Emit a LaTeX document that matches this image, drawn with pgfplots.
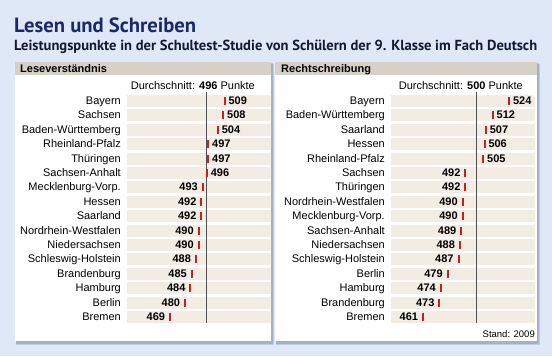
\documentclass[border=0pt]{standalone}
\usepackage{pgfplots}
\pgfplotsset{compat=1.18}
\usepackage{fontspec}
\setmainfont{Liberation Sans}
\newfontfamily\ptsans{PT Sans}
\usepackage{graphicx}
\definecolor{bg}{RGB}{222,232,247}
\definecolor{headbar}{RGB}{214,208,200}
\definecolor{stripe}{RGB}{243,236,226}
\definecolor{tickred}{RGB}{200,30,40}
\definecolor{titleblue}{RGB}{28,40,108}
\definecolor{subcol}{RGB}{22,26,48}
\definecolor{avgcol}{RGB}{80,80,80}
\definecolor{shadowcol}{RGB}{110,125,150}
\newcommand{\fs}{\fontsize{11bp}{13bp}\selectfont}
\pgfplotsset{panel/.style={
  scale only axis, width=144bp, height=230.4bp,
  xmin=437.5, xmax=543, ymin=-0.5, ymax=15.5, y dir=reverse,
  axis line style={draw=none}, xtick=\empty, ytick={0,...,15},
  major tick length=0pt,
  yticklabel style={font=\fs, text=black, anchor=east, inner sep=0pt, xshift=-6bp, text height=8bp, text depth=1bp},
  clip=false, anchor=north west,
},
redticks/.style={only marks, mark=|, mark size=4bp, mark options={line width=2bp, color=tickred}, color=tickred,
  point meta=explicit symbolic, nodes near coords,
  every node near coord/.append style={font=\fs\bfseries, text=black, inner sep=0pt, text height=8bp, text depth=1bp}},
labright/.style={redticks, every node near coord/.append style={anchor=west, xshift=3bp}},
lableft/.style={redticks, every node near coord/.append style={anchor=east, xshift=-4bp}},
}
\begin{document}
\begin{tikzpicture}[x=1bp,y=1bp]
\path[use as bounding box, fill=bg] (0,0) rectangle (552,356);
% title
\node[anchor=base west, inner sep=0pt, text=titleblue] at (14,323.7) {\resizebox{182bp}{!}{\ptsans\bfseries Lesen und Schreiben}};
\node[anchor=base west, inner sep=0pt, text=subcol] at (14,306) {\resizebox{523bp}{!}{\ptsans\bfseries Leistungspunkte in der Schultest-Studie von Schülern der 9. Klasse im Fach Deutsch}};
% panels
\foreach \a/\b in {15/271, 275/537}{
  \fill[shadowcol, opacity=0.25] (\a+1,11) rectangle (\b+3,292);
  \fill[shadowcol, opacity=0.35] (\a+1,12.5) rectangle (\b+2,293);
  \fill[white] (\a,15) rectangle (\b,294);
  \fill[headbar] (\a,281.5) rectangle (\b,294);
}
\node[anchor=base west, inner sep=0pt, font=\fs\bfseries] at (20,283.5) {Leseverständnis};
\node[anchor=base west, inner sep=0pt, font=\fs\bfseries] at (281,283.5) {Rechtschreibung};
\node[anchor=base east, inner sep=0pt, font=\fs] at (255,266.3) {Durchschnitt: \textbf{496} Punkte};
\node[anchor=base east, inner sep=0pt, font=\fs] at (523,266.3) {Durchschnitt: \textbf{500} Punkte};
\node[anchor=base east, inner sep=0pt, font=\fontsize{9.5bp}{11bp}\selectfont] at (535,19) {Stand: 2009};
% left panel
\begin{axis}[panel, at={(127bp,262.2bp)},
  yticklabels={Bayern,Sachsen,Baden-Württemberg,Rheinland-Pfalz,Thüringen,Sachsen-Anhalt,Mecklenburg-Vorp.,Hessen,Saarland,Nordrhein-Westfalen,Niedersachsen,Schleswig-Holstein,Brandenburg,Hamburg,Berlin,Bremen}]
\pgfplotsinvokeforeach{0,...,15}{\addplot[stripe, line width=12bp, forget plot] coordinates {(437.5,#1) (543,#1)};}
\addplot[avgcol, line width=1bp] coordinates {(496,-0.63) (496,15.42)};
\addplot[labright] coordinates {(509,0)[509] (508,1)[508] (504,2)[504] (497,3)[497] (497,4)[497] (496,5)[496]};
\addplot[lableft] coordinates {(493,6)[493] (492,7)[492] (492,8)[492] (490,9)[490] (490,10)[490] (488,11)[488] (485,12)[485] (484,13)[484] (480,14)[480] (469,15)[469]};
\end{axis}
% right panel
\begin{axis}[panel, at={(391bp,262.2bp)},
  yticklabels={Bayern,Baden-Württemberg,Saarland,Hessen,Rheinland-Pfalz,Sachsen,Thüringen,Nordrhein-Westfalen,Mecklenburg-Vorp.,Sachsen-Anhalt,Niedersachsen,Schleswig-Holstein,Berlin,Hamburg,Brandenburg,Bremen}]
\pgfplotsinvokeforeach{0,...,15}{\addplot[stripe, line width=12bp, forget plot] coordinates {(437.5,#1) (543,#1)};}
\addplot[avgcol, line width=1bp] coordinates {(500,-0.63) (500,15.42)};
\addplot[labright] coordinates {(524,0)[524] (512,1)[512] (507,2)[507] (506,3)[506] (505,4)[505]};
\addplot[lableft] coordinates {(492,5)[492] (492,6)[492] (490,7)[490] (490,8)[490] (489,9)[489] (488,10)[488] (487,11)[487] (479,12)[479] (474,13)[474] (473,14)[473] (461,15)[461]};
\end{axis}
\end{tikzpicture}
\end{document}
